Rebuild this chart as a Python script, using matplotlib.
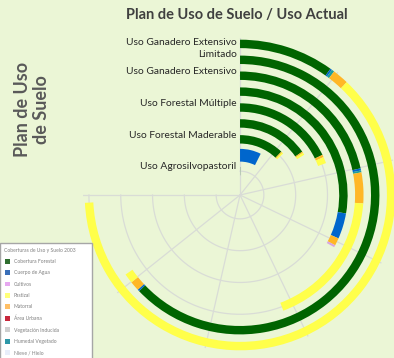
import numpy as np
import matplotlib
matplotlib.use("Agg")
import matplotlib.pyplot as plt
from matplotlib.patches import Patch

plt.rcParams['font.family'] = ['Lato', 'DejaVu Sans']

# rings from the centre outwards (only every other one is labelled)
ring_labels = ["Uso Agrosilvopastoril", "", "Uso Forestal Maderable", "",
               "Uso Forestal Múltiple", "", "Uso Ganadero Extensivo", "",
               "Uso Ganadero Extensivo\nLimitado"]

# land cover per ring, axis goes 0-70 over three quarters of a turn
forestal = [0.1, 0.0, 11.3, 14.3, 16.6, 25.9, 20.1, 58.7, 9.23]
agua     = [0.0, 6.9, 0.0, 0.0, 0.0, 3.6, 0.26, 0.2, 0.18]
humedal  = [0.0, 0.0, 0.0, 0.0, 0.0, 0.0, 0.23, 0.0, 0.26]
matorral = [0.0, 0.0, 0.25, 0.25, 0.4, 1.05, 3.76, 1.04, 1.58]
cultivos = [0.0, 0.0, 0.0, 0.0, 0.0, 0.3, 0.0, 0.0, 0.0]
pastizal = [0.0, 0.0, 0.4, 0.45, 1.05, 0.0, 17.0, 1.04, 58.0]
axis_max = 70
axis_step = 10

legend_title = "Coberturas de Uso y Suelo 2003"
legend_labels = ["Cobertura Forestal", "Cuerpo de Agua", "Cultivos", "Pastizal",
                 "Matorral", "Área Urbana", "Vegetación Inducida",
                 "Humedal Vegetado", "Nieve / Hielo"]
legend_colors = ["#2f6e2f", "#3a6fb8", "#e6a8f0", "#ffff7a", "#ffbf66",
                 "#c8283c", "#cfcfcf", "#2e98a8", "#e8eefa"]

bg = "#ebf6d6"
fig = plt.figure(figsize=(3.94, 3.58), dpi=100, facecolor=bg)
ax = fig.add_axes([0.2107, 0.0168, 0.797, 0.877], projection="polar")
ax.set_facecolor("none")
ax.set_theta_zero_location("N")
ax.set_theta_direction(-1)
rmax = 9.37
ax.set_ylim(-0.5, rmax)
ax.grid(False)
ax.set_xticks([])
ax.set_yticks([])
ax.spines["polar"].set_visible(False)

pos = np.arange(1, len(ring_labels) + 1)
scale = np.deg2rad(270) / axis_max

# grid only over the used three quarters
arc = np.linspace(0, np.deg2rad(270), 300)
for p in pos[::2]:
    ax.plot(arc, np.full_like(arc, p), color="#d9dcd6", lw=0.9, zorder=1)
for t in np.arange(0, axis_max + 1, axis_step) * scale:
    ax.plot([t, t], [-0.5, rmax], color="#d9dcd6", lw=0.9, zorder=1)

w = np.where(pos == 2, 0.8, 0.53)
series = [(forestal, "#006400"), (agua, "#0066cc"), (humedal, "#1e9e9e"),
          (matorral, "#ffb726"), (cultivos, "#d9a6e0"), (pastizal, "#ffff4a")]
left = np.zeros(len(pos))
for vals, col in series:
    vals = np.array(vals)
    ax.bar(left * scale, w, width=vals * scale, bottom=pos - w / 2,
           align="edge", color=col, linewidth=0, zorder=3)
    left += vals

for p, lab in zip(pos, ring_labels):
    if lab:
        dy = -3.5 if "\n" in lab else 3
        ax.annotate(lab, xy=(0, p), xytext=(-2.5, dy), textcoords="offset points",
                    ha="right", va="center", fontsize=7.4, color="#262626",
                    linespacing=1.45, annotation_clip=False)

fig.text(0.60, 0.958, "Plan de Uso de Suelo / Uso Actual", ha="center", va="center",
         fontsize=10.5, fontweight="bold", color="#404040")
fig.text(0.081, 0.693, "Plan de Uso\nde Suelo", rotation=90, ha="center", va="center",
         fontsize=13, fontweight="bold", color="#595959", linespacing=1.2)

handles = [Patch(facecolor=c, edgecolor="none") for c in legend_colors]
leg = fig.legend(handles, legend_labels, title=legend_title, loc="lower left",
                 bbox_to_anchor=(0.0, -0.005, 0.234, 0.33), mode="expand",
                 fontsize=3.6, title_fontsize=3.6, frameon=True, fancybox=False,
                 edgecolor="#a6a6a6", facecolor="white", framealpha=1,
                 handlelength=1.1, handleheight=1.1, labelspacing=1.25,
                 borderaxespad=0, borderpad=0.9, alignment="left",
                 labelcolor="#7f7f7f")
leg.get_title().set_color("#7f7f7f")

fig.savefig("out.png", dpi=100, facecolor=bg)
